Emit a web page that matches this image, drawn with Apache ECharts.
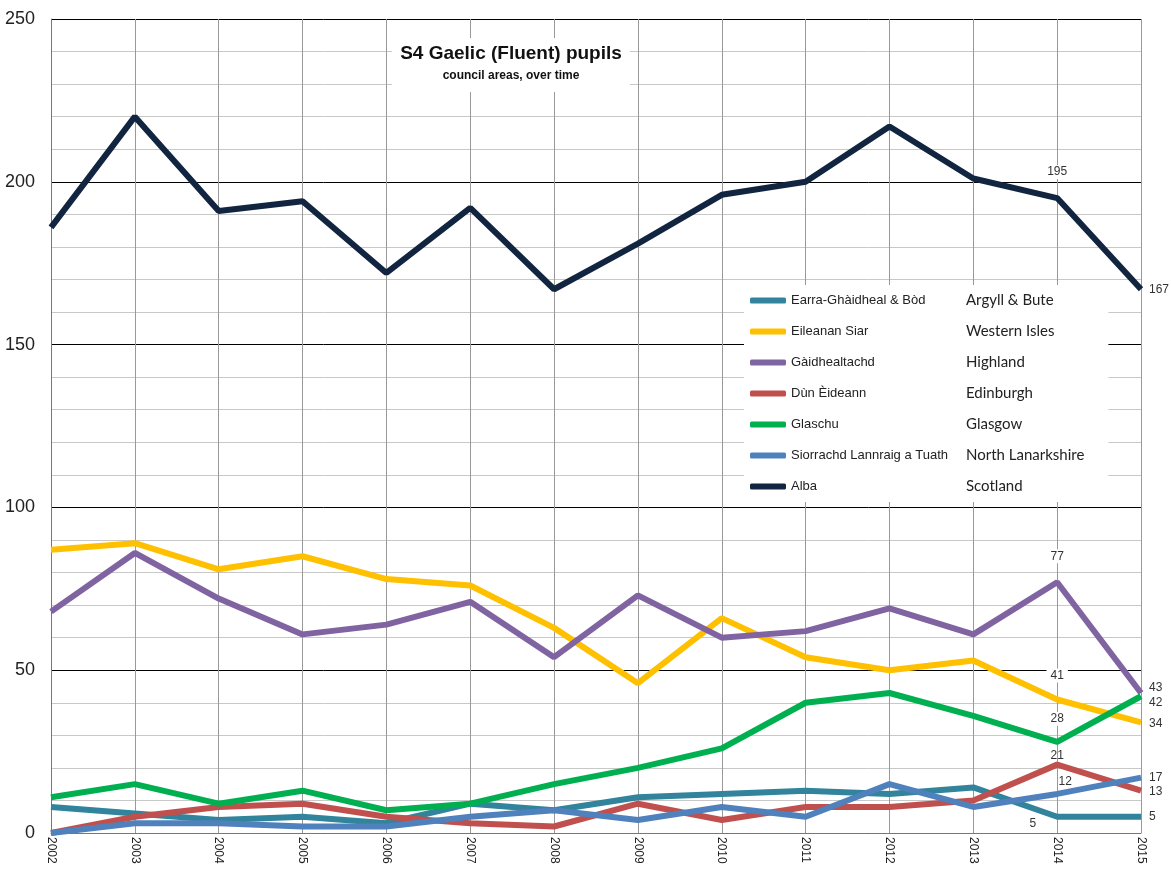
<!DOCTYPE html>
<html>
<head>
<meta charset="utf-8">
<script src="https://cdn.jsdelivr.net/npm/echarts@6/dist/echarts.min.js"></script>
<style>
  html, body { margin: 0; padding: 0; background: #fff; }
  #chart { width: 1171px; height: 872px; }
</style>
</head>
<body>
<div id="chart"></div>
<script>
// years on the x axis
const years = ['2002','2003','2004','2005','2006','2007','2008','2009','2010','2011','2012','2013','2014','2015'];

// pupils per council area
const argyll      = [8, 6, 4, 5, 3, 9, 7, 11, 12, 13, 12, 14, 5, 5];
const westernIsles = [87, 89, 81, 85, 78, 76, 63, 46, 66, 54, 50, 53, 41, 34];
const highland    = [68, 86, 72, 61, 64, 71, 54, 73, 60, 62, 69, 61, 77, 43];
const edinburgh   = [0, 5, 8, 9, 5, 3, 2, 9, 4, 8, 8, 10, 21, 13];
const glasgow     = [11, 15, 9, 13, 7, 9, 15, 20, 26, 40, 43, 36, 28, 42];
const northLan    = [0, 3, 3, 2, 2, 5, 7, 4, 8, 5, 15, 8, 12, 17];
const scotland    = [186, 220, 191, 194, 172, 192, 167, 181, 196, 200, 217, 201, 195, 167];

const gaelicNames  = ['Earra-Ghàidheal & Bòd', 'Eileanan Siar', 'Gàidhealtachd', 'Dùn Èideann', 'Glaschu', 'Siorrachd Lannraig a Tuath', 'Alba'];
const englishNames = ['Argyll & Bute', 'Western Isles', 'Highland', 'Edinburgh', 'Glasgow', 'North Lanarkshire', 'Scotland'];

const yTicks = [0, 50, 100, 150, 200, 250];

const colors = ['#31849b', '#ffc000', '#8064a2', '#c0504d', '#00b050', '#4f81bd', '#112540'];
const values = [argyll, westernIsles, highland, edinburgh, glasgow, northLan, scotland];

// where the last two points get their labels
const labelTweaks = [
    { p14: 'left', o14: [-12, 7], o15: [0, 0], bg: false },
    { p14: 'top', o14: [0, -12], o15: [0, 1], bg: true },
    { p14: 'top', o14: [0, -14], o15: [0, -5], bg: true },
    { p14: 'top', o14: [0, 3], o15: [0, 1], bg: false },
    { p14: 'top', o14: [0, -11], o15: [0, 6], bg: true },
    { p14: 'top', o14: [8, 0], o15: [0, 0], bg: false },
    { p14: 'top', o14: [0, -14], o15: [0, 0], bg: true },
];

const labelFont = { fontFamily: 'Liberation Sans', fontSize: 12, color: '#333' };

function buildData(arr, tw) {
    return arr.map((v, i) => {
        if (i === arr.length - 2) {
            return { value: v, label: Object.assign({ show: true, position: tw.p14, offset: tw.o14,
                backgroundColor: tw.bg ? '#fff' : 'transparent', padding: [1, 4] }, labelFont) };
        }
        if (i === arr.length - 1) {
            return { value: v, label: Object.assign({ show: true, position: 'right', distance: 8, offset: tw.o15 }, labelFont) };
        }
        return v;
    });
}

const series = gaelicNames.map((name, k) => ({
    name: name,
    type: 'line',
    symbol: 'circle',
    symbolSize: 0,
    showSymbol: true,
    data: buildData(values[k], labelTweaks[k]),
    lineStyle: { color: colors[k], width: 6 },
    itemStyle: { color: colors[k] },
    label: { show: false },
    z: k === 6 ? 3 : 2,
}));

const chart = echarts.init(document.getElementById('chart'));
chart.setOption({
    animation: false,
    backgroundColor: '#fff',
    title: {
        text: 'S4 Gaelic (Fluent) pupils',
        subtext: 'council areas, over time',
        left: 503,
        textAlign: 'center',
        top: 38,
        itemGap: 7,
        padding: [6, 8, 10, 8],
        backgroundColor: '#fff',
        textStyle: { fontFamily: 'Liberation Sans', fontSize: 19, fontWeight: 'bold', color: '#111' },
        subtextStyle: { fontFamily: 'Liberation Sans', fontSize: 12, fontWeight: 'bold', color: '#111' },
    },
    legend: {
        orient: 'vertical',
        left: 744,
        top: 285,
        backgroundColor: '#fff',
        padding: [8, 24, 8, 6],
        itemGap: 16,
        itemWidth: 36,
        itemHeight: 6,
        icon: 'roundRect',
        data: gaelicNames,
        formatter: name => '{a|' + name + '}{b|' + englishNames[gaelicNames.indexOf(name)] + '}',
        textStyle: {
            rich: {
                a: { fontFamily: 'Liberation Sans', fontSize: 13, color: '#222', width: 175, lineHeight: 15 },
                b: { fontFamily: 'Lato', fontSize: 15, color: '#222', lineHeight: 15 },
            },
        },
    },
    grid: { left: 51, right: 30, top: 19, bottom: 39, containLabel: false },
    xAxis: {
        type: 'category',
        boundaryGap: false,
        data: years,
        axisLine: { lineStyle: { color: '#777' } },
        axisTick: { show: false },
        axisLabel: { rotate: -90, fontFamily: 'Liberation Sans', fontSize: 12, color: '#222', margin: 4 },
        splitLine: { show: true, lineStyle: { color: '#999', width: 1 } },
    },
    yAxis: {
        type: 'value',
        min: yTicks[0],
        max: yTicks[yTicks.length - 1],
        interval: 50,
        axisLine: { show: true, lineStyle: { color: '#777' } },
        axisTick: { show: false },
        axisLabel: { fontFamily: 'Liberation Sans', fontSize: 18, color: '#222', margin: 16 },
        splitLine: { lineStyle: { color: '#000', width: 1 } },
        minorTick: { show: false, splitNumber: 5 },
        minorSplitLine: { show: true, lineStyle: { color: '#c8c8c8', width: 1 } },
    },
    series: series,
});
</script>
</body>
</html>
